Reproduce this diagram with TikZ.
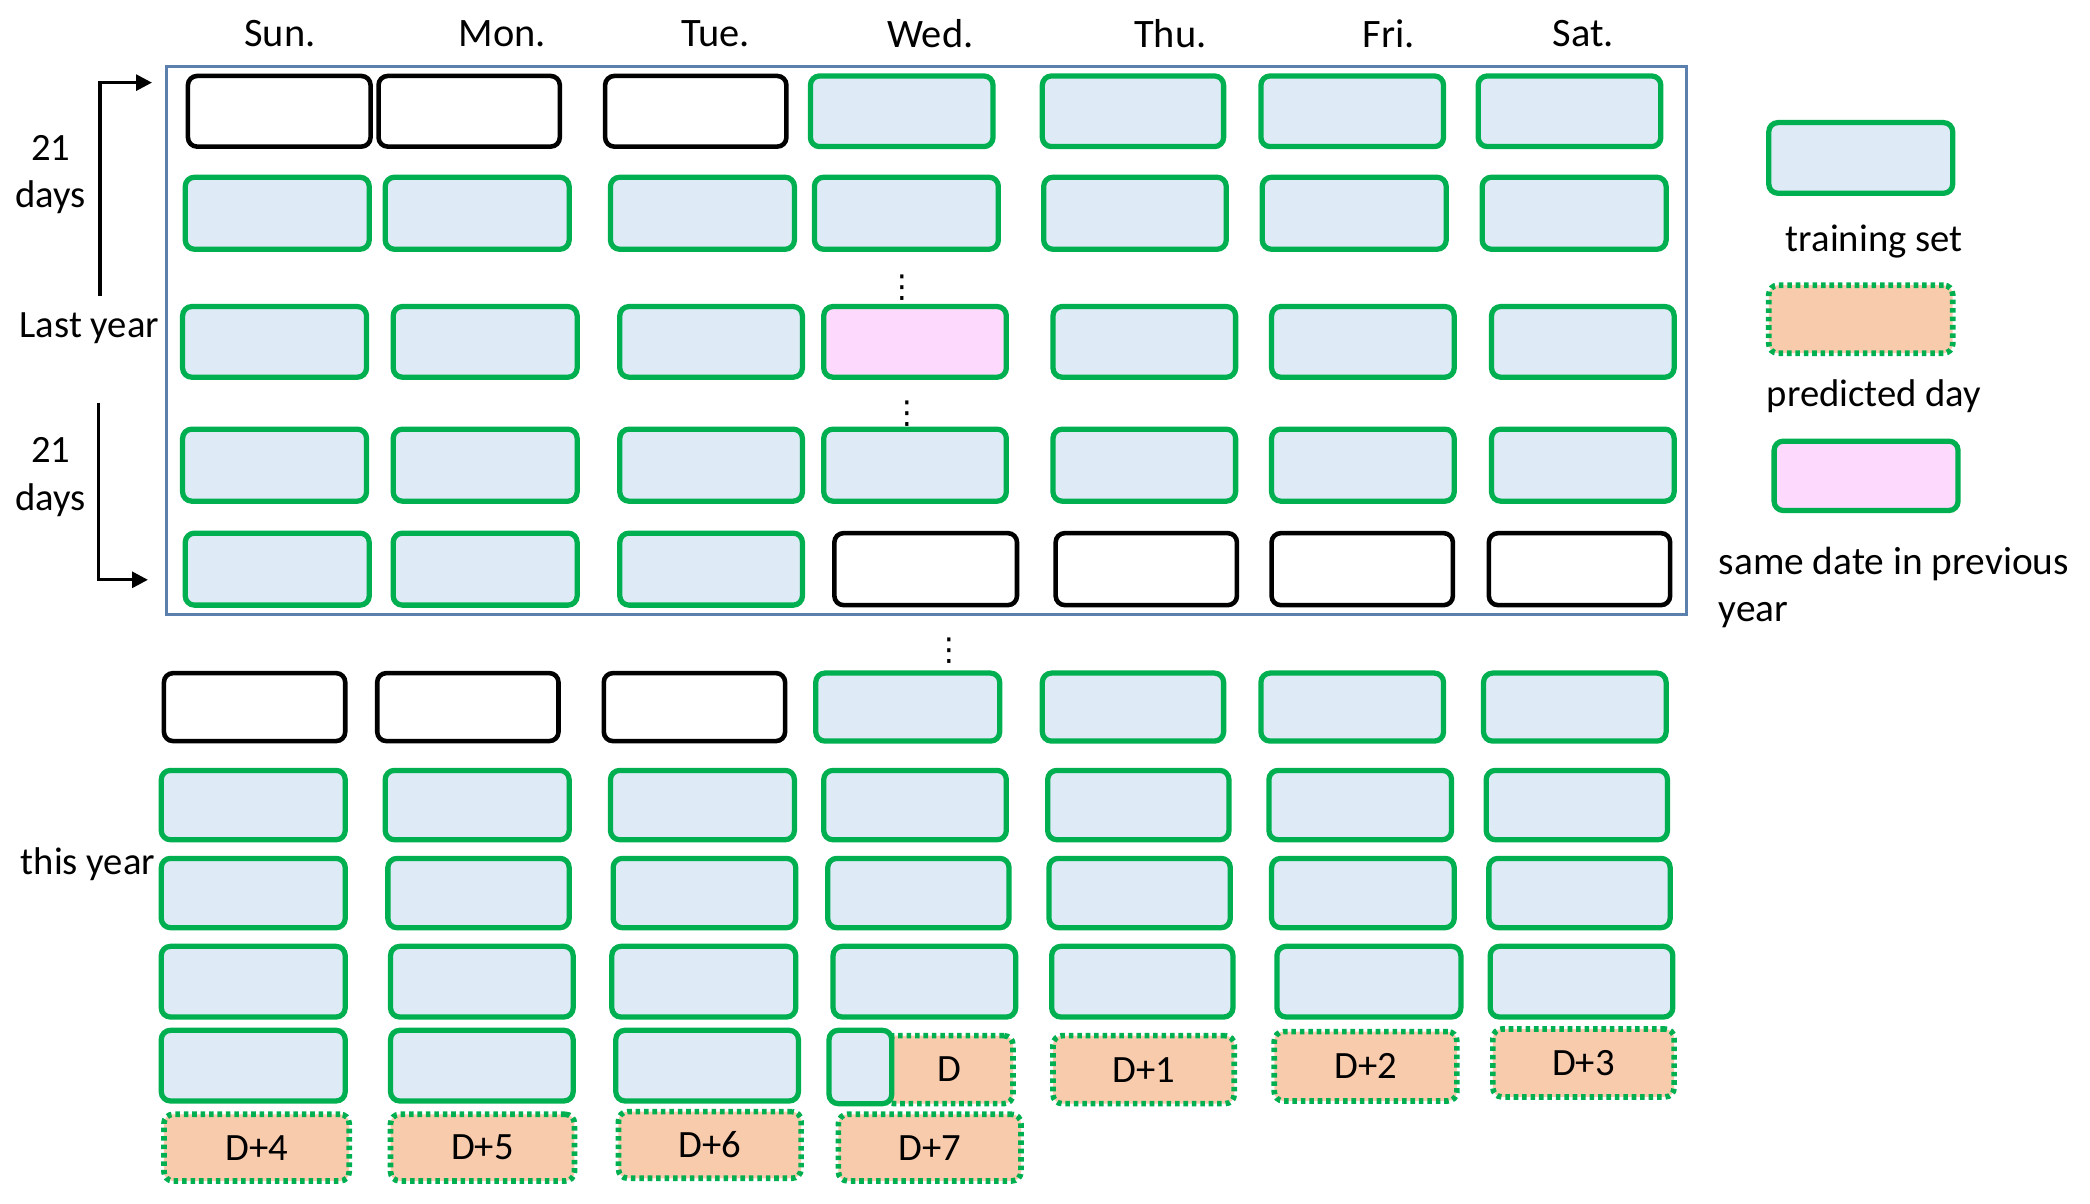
\documentclass[tikz,border=0pt]{standalone}
\usepackage{fontspec}
\setmainfont{Carlito}
\newfontfamily\dejavu{DejaVu Sans}
\usetikzlibrary{fit,arrows.meta}
\definecolor{tgreen}{HTML}{00B050}
\definecolor{tblue}{HTML}{DEEAF6}
\definecolor{tpink}{HTML}{FDD9FD}
\definecolor{torange}{HTML}{F8CBAD}
\definecolor{frameblue}{HTML}{5B80AE}
\tikzset{
  cellbase/.style={inner sep=0pt, rounded corners=2.6pt},
  train/.style={cellbase, draw=tgreen, fill=tblue, line width=1.5pt},
  blank/.style={cellbase, draw=black, fill=white, line width=1.3pt},
  same/.style={cellbase, draw=tgreen, fill=tpink, line width=1.5pt},
  pred/.style={cellbase, draw=tgreen, fill=torange, line width=1.6pt, dash pattern=on 1.3pt off 1.1pt},
  lbl/.style={inner sep=0pt, font=\fontsize{11}{13.6}\selectfont},
  hdr/.style={inner sep=0pt, font=\fontsize{11.5}{13}\selectfont},
  vdot/.style={inner sep=0pt, font=\dejavu\fontsize{9}{9}\selectfont},
  arr/.style={line width=0.9pt, -{Triangle[length=4.5pt,width=4.5pt]}},
}
\newcommand\mycell[6]{\node[#2, fit={(#3,#5) (#4,#6)}] (#1) {};}
\newcommand\mytext[2]{\node[lbl] at (#1.center) {#2};}
\begin{document}
\begin{tikzpicture}[x=0.01333cm, y=-0.01333cm]
\useasboundingbox (0,0) rectangle (1568,903);
% frame
\node[draw=frameblue, line width=0.8pt, inner sep=0pt, fit={(125,50) (1265,461)}] (frame) {};
% headers
\foreach \n/\t/\x in {1/Sun./210, 2/Mon./377, 3/Tue./537, 4/Wed./698, 5/Thu./878, 6/Fri./1042, 7/Sat./1188}
  \node[hdr] (h\n) at (\x,25) {\t};
% top block
\foreach \n/\s/\a/\b in {1/blank/141/278, 2/blank/284/420, 3/blank/454/590, 4/train/608/745, 5/train/782/918, 6/train/946/1083, 7/train/1109/1246}
  \mycell{ta\n}{\s}{\a}{\b}{57}{110};
\foreach \n/\s/\a/\b in {1/train/139/277, 2/train/289/427, 3/train/458/596, 4/train/611/749, 5/train/783/920, 6/train/947/1085, 7/train/1112/1250}
  \mycell{tb\n}{\s}{\a}{\b}{133}{187};
\foreach \n/\s/\a/\b in {1/train/137/275, 2/train/295/433, 3/train/465/602, 4/same/618/755, 5/train/790/927, 6/train/954/1091, 7/train/1119/1256}
  \mycell{tc\n}{\s}{\a}{\b}{230}{283};
\foreach \n/\s/\a/\b in {1/train/137/275, 2/train/295/433, 3/train/465/602, 4/train/618/755, 5/train/790/927, 6/train/954/1091, 7/train/1119/1256}
  \mycell{td\n}{\s}{\a}{\b}{322}{376};
\foreach \n/\s/\a/\b in {1/train/139/277, 2/train/295/433, 3/train/465/602, 4/blank/626/763, 5/blank/792/928, 6/blank/954/1090, 7/blank/1117/1253}
  \mycell{te\n}{\s}{\a}{\b}{400}{454};
% bottom block
\foreach \n/\s/\a/\b in {1/blank/123/259, 2/blank/283/419, 3/blank/453/589, 4/train/612/750, 5/train/782/918, 6/train/946/1083, 7/train/1113/1250}
  \mycell{ba\n}{\s}{\a}{\b}{505}{556};
\foreach \n/\s/\a/\b in {1/train/121/259, 2/train/289/427, 3/train/458/596, 4/train/618/755, 5/train/786/922, 6/train/952/1089, 7/train/1115/1251}
  \mycell{bb\n}{\s}{\a}{\b}{578}{630};
\foreach \n/\s/\a/\b in {1/train/121/259, 2/train/291/427, 3/train/460/597, 4/train/621/757, 5/train/787/923, 6/train/954/1091, 7/train/1117/1253}
  \mycell{bc\n}{\s}{\a}{\b}{644}{696};
\foreach \n/\s/\a/\b in {1/train/121/259, 2/train/293/430, 3/train/459/597, 4/train/625/762, 5/train/789/925, 6/train/958/1096, 7/train/1118/1255}
  \mycell{bd\n}{\s}{\a}{\b}{710}{763};
\foreach \n/\s/\a/\b in {1/train/121/259, 2/train/293/430, 3/train/462/599}
  \mycell{be\n}{\s}{\a}{\b}{773}{826};
\mycell{pD}{pred}{664}{760}{777}{828}
\mycell{be4}{train}{622}{669}{773}{828}
\mycell{pD1}{pred}{790}{926}{777}{828}
\mycell{pD2}{pred}{956}{1093}{774}{826}
\mycell{pD3}{pred}{1120}{1256}{772}{823}
\mycell{pD4}{pred}{123}{262}{836}{886}
\mycell{pD5}{pred}{293}{431}{836}{886}
\mycell{pD6}{pred}{464}{601}{834}{884}
\mycell{pD7}{pred}{629}{766}{836}{886}
\node[lbl] (tD) at (712,802) {D};
\mytext{pD1}{D+1}
\mytext{pD2}{D+2}
\mytext{pD3}{D+3}
\mytext{pD4}{D+4}
\mytext{pD5}{D+5}
\mytext{pD6}{D+6}
\mytext{pD7}{D+7}
% vertical dots
\node[vdot] (v1) at (677,216) {⋮};
\node[vdot] (v2) at (681,310) {⋮};
\node[vdot] (v3) at (712,488) {⋮};
% left labels
\node[lbl, align=center] (d1) at (38,131) {21\\days};
\node[lbl] (ly) at (67,246) {Last year};
\node[lbl, align=center] (d2) at (38,358) {21\\days};
\node[lbl] (ty) at (66,648) {this year};
% arrows
\coordinate (a1s) at (75,222);
\coordinate (a1e) at (114,62);
\draw[arr] (a1s) |- (a1e);
\coordinate (a2s) at (74,302);
\coordinate (a2e) at (111,435);
\draw[arr] (a2s) |- (a2e);
% legend
\mycell{lg1}{train}{1327}{1465}{92}{145}
\node[lbl] (lt1) at (1406,181) {training set};
\mycell{lg2}{pred}{1327}{1465}{214}{265}
\node[lbl] (lt2) at (1406,297) {predicted day};
\mycell{lg3}{same}{1331}{1469}{331}{383}
\node[lbl, anchor=west, align=left, font=\fontsize{11.2}{13.3}\selectfont] (lt3) at (1289,441) {same date in previous\\year};
\end{tikzpicture}
\end{document}
